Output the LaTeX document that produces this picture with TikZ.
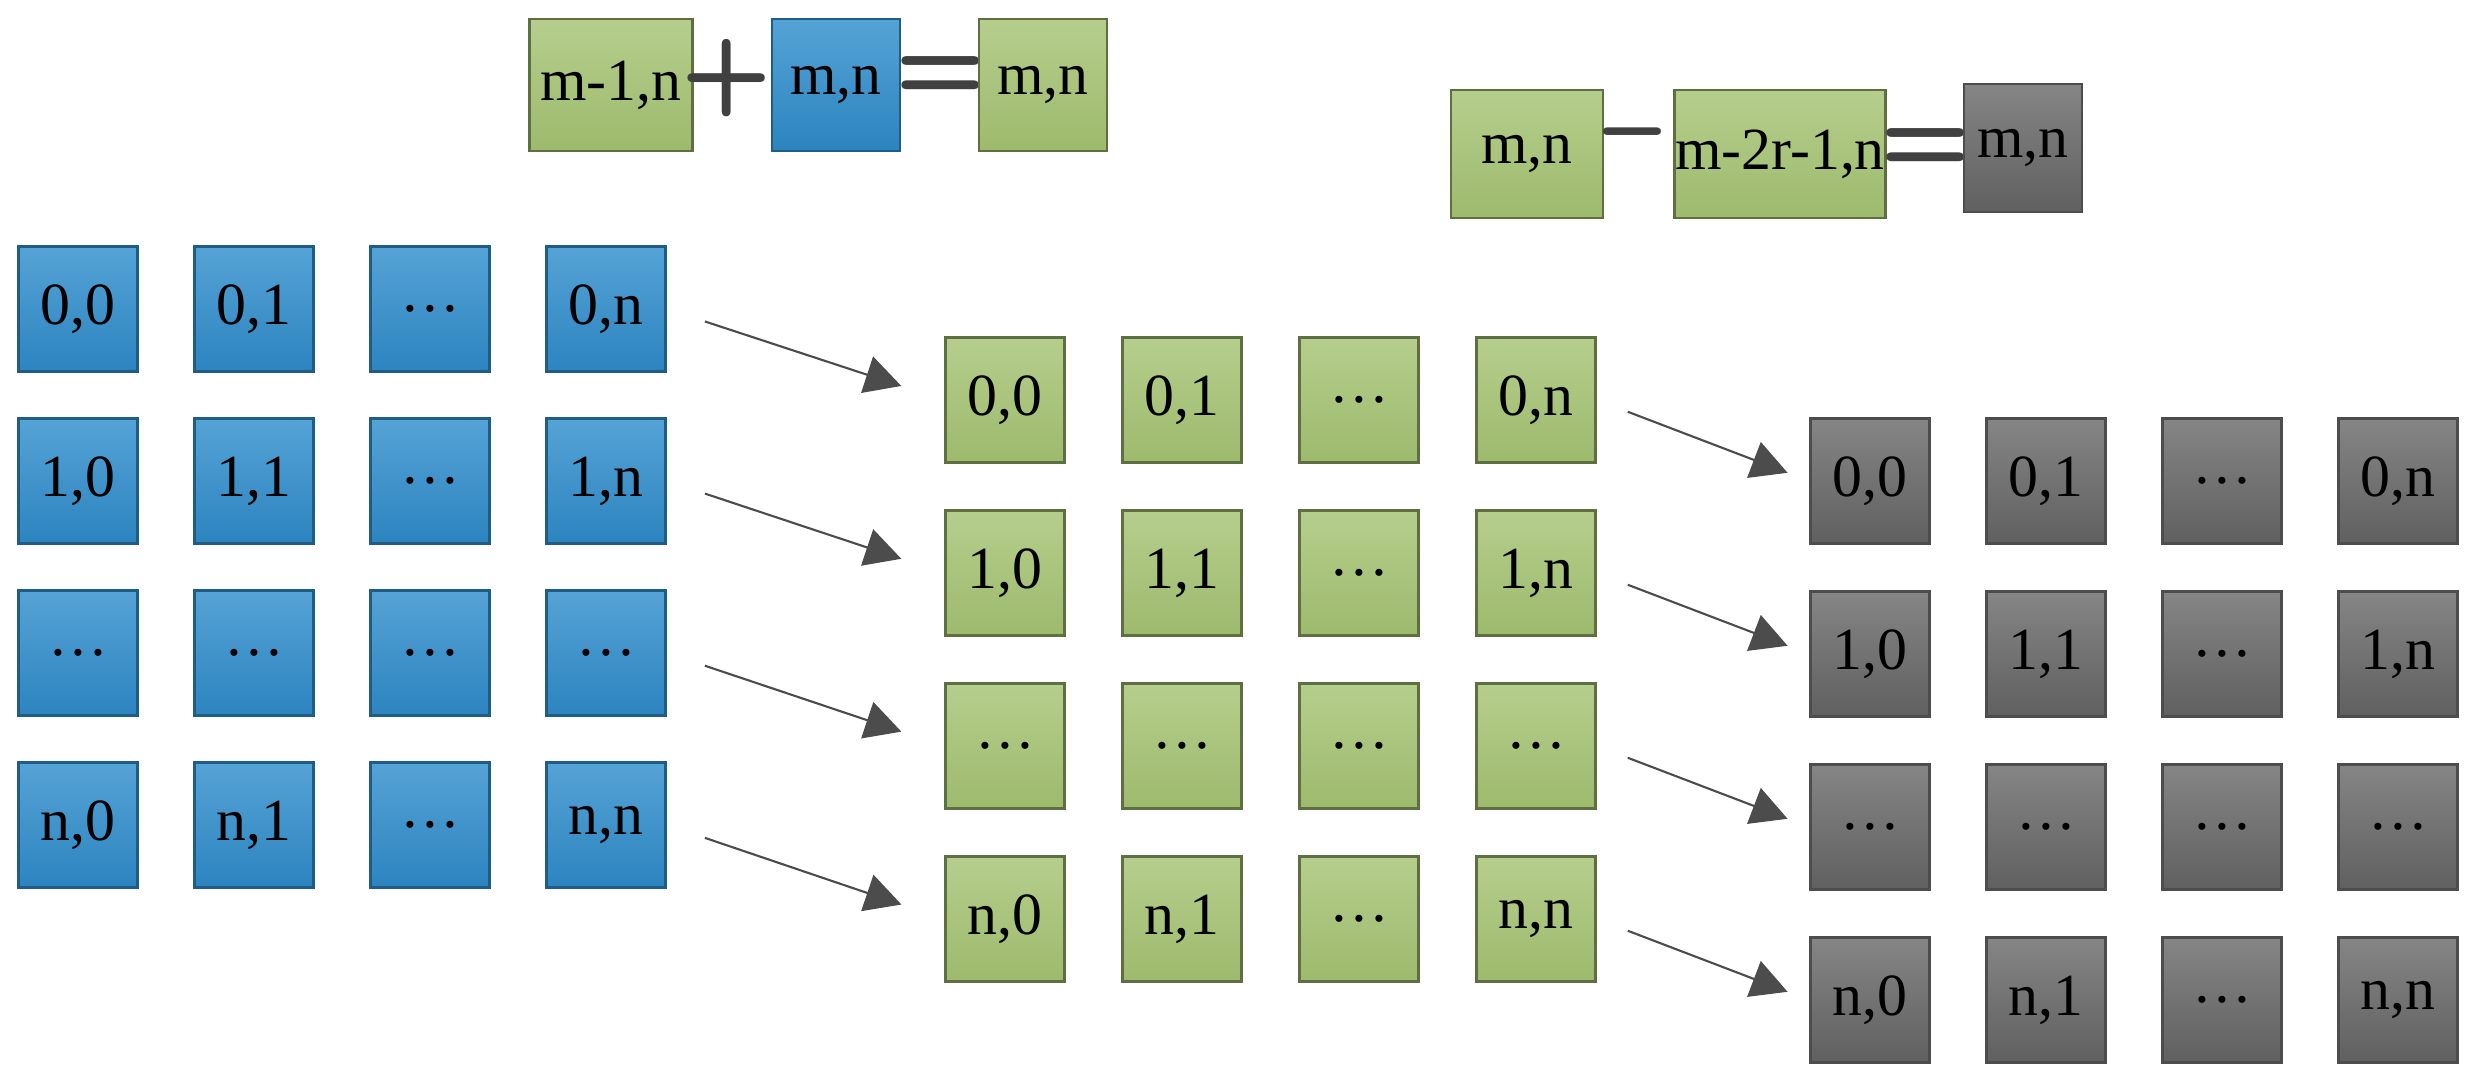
\documentclass[tikz,border=0pt]{standalone}
\usepackage{fontspec}
\setmainfont{Liberation Serif}
\usetikzlibrary{arrows.meta, positioning}
\definecolor{bluetop}{HTML}{55A3D6}
\definecolor{bluebot}{HTML}{2C84BF}
\definecolor{greentop}{HTML}{B6CE8D}
\definecolor{greenbot}{HTML}{9DBA6C}
\definecolor{graytop}{HTML}{858585}
\definecolor{graybot}{HTML}{606060}
\tikzstyle{cell} = [rectangle, draw, line width=0.8pt, minimum width=1.19cm, minimum height=1.25cm, inner sep=0pt, font=\fontsize{17}{20}\selectfont]
\tikzstyle{bluecell} = [cell, top color=bluetop, bottom color=bluebot, draw=bluebot!70!black]
\tikzstyle{greencell} = [cell, top color=greentop, bottom color=greenbot, draw=greenbot!60!black]
\tikzstyle{graycell} = [cell, top color=graytop, bottom color=graybot, draw=graybot!80!black]
\tikzstyle{op} = [font=\sffamily\bfseries\fontsize{30}{30}\selectfont, text=black!75]
\tikzstyle{line} = [draw, black!70, line width=0.6pt, -{Triangle[length=0.36cm, width=0.38cm]}]

\begin{document}
\begin{tikzpicture}[x=0.01cm, y=-0.01cm]
        \useasboundingbox (0,0) rectangle (2477,1083);

        % top equations
        \node[greencell, minimum width=1.63cm, minimum height=1.32cm] (e1a) at (611,85) {m-1,n};
        \node[op] (e1p) at (727,78) {+};
        \node[bluecell, minimum width=1.28cm, minimum height=1.32cm] (e1b) at (836,85) {m,n};
        \node[op] (e1q) at (941,78) {=};
        \node[greencell, minimum width=1.28cm, minimum height=1.32cm] (e1c) at (1043,85) {m,n};

        \node[greencell, minimum width=1.52cm, minimum height=1.28cm] (e2a) at (1527,154) {m,n};
        \node[op] (e2m) at (1633,145) {\textendash};
        \node[greencell, minimum width=2.11cm, minimum height=1.28cm] (e2b) at (1780,154) {m-2r-1,n};
        \node[op] (e2q) at (1926,150) {=};
        \node[graycell, minimum width=1.18cm, minimum height=1.28cm] (e2c) at (2023,148) {m,n};

        % grids
        \foreach \r/\lbls in {0/{0,0},1/{1,0},2/{\dots},3/{n,0}} {}
        \foreach \r/\a/\b/\c/\d in {0/{0,0}/{0,1}/{\dots}/{0,n}, 1/{1,0}/{1,1}/{\dots}/{1,n}, 2/{\dots}/{\dots}/{\dots}/{\dots}, 3/{n,0}/{n,1}/{\dots}/{n,n}} {
            \foreach \k/\t in {0/\a,1/\b,2/\c,3/\d} {
                \node[bluecell] (b\r\k) at (78+176*\k, 309+172*\r) {\t};
                \node[greencell] (g\r\k) at (1005+177*\k, 400+173*\r) {\t};
                \node[graycell] (h\r\k) at (1870+176*\k, 481+173*\r) {\t};
            }
        }

        \foreach \r in {0,1,2,3} {
            \path[line, shorten <=0.4cm, shorten >=0.45cm] (b\r3.east) -- (g\r0.west);
            \path[line, shorten <=0.33cm, shorten >=0.23cm] (g\r3.east) -- (h\r0.west);
        }
    \end{tikzpicture}
\end{document}
